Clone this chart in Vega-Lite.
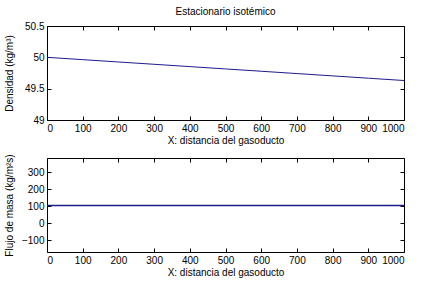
{
  "$schema": "https://vega.github.io/schema/vega-lite/v6.json",
  "background": "white",
  "padding": {"left": 3, "top": 6, "right": 6, "bottom": 4},
  "config": {
    "font": "Liberation Sans",
    "view": {"stroke": "black", "strokeWidth": 1},
    "axis": {
      "grid": false,
      "domainColor": "black",
      "tickColor": "black",
      "tickSize": -4,
      "labelPadding": 7,
      "labelFont": "Liberation Sans",
      "labelFontSize": 10,
      "labelColor": "black",
      "titleFont": "Liberation Sans",
      "titleFontSize": 10,
      "titleFontWeight": "normal",
      "titleColor": "black"
    },
    "concat": {"spacing": 7}
  },
  "vconcat": [
    {
      "width": 357,
      "height": 94,
      "title": {"text": "Estacionario isotémico", "fontSize": 10, "fontWeight": "normal", "font": "Liberation Sans", "offset": 4},
      "data": {"values": [
        {"x": 0, "rho": 50.0}, {"x": 100, "rho": 49.963}, {"x": 200, "rho": 49.926},
        {"x": 300, "rho": 49.889}, {"x": 400, "rho": 49.852}, {"x": 500, "rho": 49.815},
        {"x": 600, "rho": 49.778}, {"x": 700, "rho": 49.741}, {"x": 800, "rho": 49.704},
        {"x": 900, "rho": 49.667}, {"x": 1000, "rho": 49.63}
      ]},
      "layer": [
        {
          "mark": {"type": "line", "color": "#1c1c8c", "strokeWidth": 1},
          "encoding": {
            "x": {"field": "x", "type": "quantitative", "scale": {"domain": [0, 1000], "nice": false},
                  "axis": {"orient": "bottom", "values": [0,100,200,300,400,500,600,700,800,900,1000], "format": "d", "title": "X: distancia del gasoducto", "titlePadding": 2, "domain": false}},
            "y": {"field": "rho", "type": "quantitative", "scale": {"domain": [49, 50.5], "nice": false, "zero": false},
                  "axis": {"orient": "left", "values": [49, 49.5, 50, 50.5], "format": "~g", "title": "Densidad (kg/m³)", "titlePadding": 3, "minExtent": 30, "maxExtent": 30, "domain": false}}
          }
        },
        {
          "mark": {"type": "line", "opacity": 0},
          "encoding": {
            "x": {"field": "x", "type": "quantitative", "scale": {"domain": [0, 1000], "nice": false},
                  "axis": {"orient": "top", "values": [0,100,200,300,400,500,600,700,800,900,1000], "labels": false, "title": null, "domain": false}},
            "y": {"field": "rho", "type": "quantitative", "scale": {"domain": [49, 50.5], "nice": false, "zero": false},
                  "axis": {"orient": "right", "values": [49, 49.5, 50, 50.5], "labels": false, "title": null, "domain": false}}
          }
        }
      ],
      "resolve": {"scale": {"x": "independent", "y": "independent"}, "axis": {"x": "independent", "y": "independent"}}
    },
    {
      "width": 357,
      "height": 94,
      "data": {"values": [
        {"x": 0, "flujo": 105}, {"x": 500, "flujo": 105}, {"x": 1000, "flujo": 105}
      ]},
      "layer": [
        {
          "mark": {"type": "line", "color": "#1c1c8c", "strokeWidth": 1.3},
          "encoding": {
            "x": {"field": "x", "type": "quantitative", "scale": {"domain": [0, 1000], "nice": false},
                  "axis": {"orient": "bottom", "values": [0,100,200,300,400,500,600,700,800,900,1000], "format": "d", "title": "X: distancia del gasoducto", "titlePadding": 2, "domain": false}},
            "y": {"field": "flujo", "type": "quantitative", "scale": {"domain": [-169, 385], "nice": false, "zero": false},
                  "axis": {"orient": "left", "values": [-100, 0, 100, 200, 300], "format": "d", "title": "Flujo de masa (kg/m²s)", "titlePadding": 3, "minExtent": 30, "maxExtent": 30, "domain": false}}
          }
        },
        {
          "mark": {"type": "line", "opacity": 0},
          "encoding": {
            "x": {"field": "x", "type": "quantitative", "scale": {"domain": [0, 1000], "nice": false},
                  "axis": {"orient": "top", "values": [0,100,200,300,400,500,600,700,800,900,1000], "labels": false, "title": null, "domain": false}},
            "y": {"field": "flujo", "type": "quantitative", "scale": {"domain": [-169, 385], "nice": false, "zero": false},
                  "axis": {"orient": "right", "values": [-100, 0, 100, 200, 300], "labels": false, "title": null, "domain": false}}
          }
        }
      ],
      "resolve": {"scale": {"x": "independent", "y": "independent"}, "axis": {"x": "independent", "y": "independent"}}
    }
  ]
}
